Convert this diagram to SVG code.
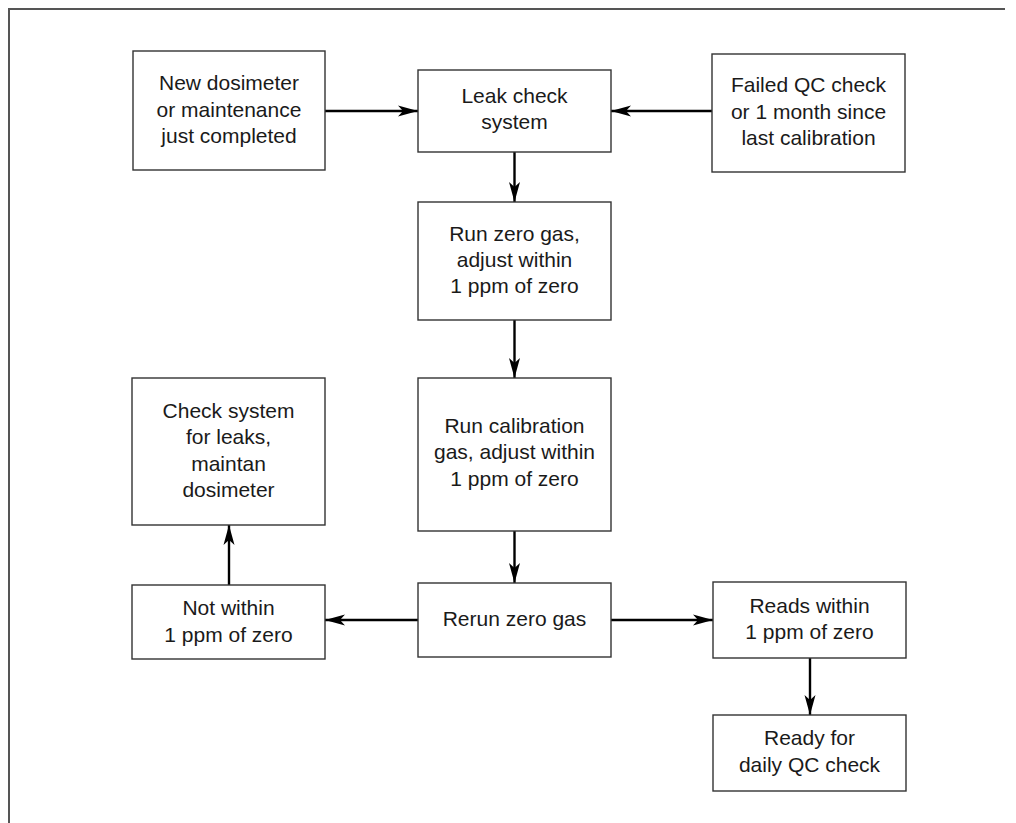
<svg xmlns="http://www.w3.org/2000/svg" width="1016" height="823" viewBox="0 0 1016 823">
<style>
.box{fill:#fff;stroke:#333;stroke-width:1.4}
.t{font-family:"Liberation Sans",Arial,sans-serif;font-size:21px;fill:#1a1a1a;text-anchor:middle}
.c{stroke:#000;stroke-width:2.4;fill:none;marker-end:url(#ah)}
</style>
<defs>
<marker id="ah" markerUnits="userSpaceOnUse" markerWidth="22" markerHeight="12" refX="20" refY="5.5" orient="auto" overflow="visible">
<path d="M0,0 L20,5.5 L0,11 L5,5.5 Z" fill="#000"/>
</marker>
</defs>
<rect width="1016" height="823" fill="#fff"/>
<polyline points="9,830 9,9 1005,9" fill="none" stroke="#555" stroke-width="2"/>
<g id="connectors">
<line class="c" x1="325" y1="111" x2="418" y2="111"/>
<line class="c" x1="712" y1="111" x2="611" y2="111"/>
<line class="c" x1="514.5" y1="152" x2="514.5" y2="202"/>
<line class="c" x1="514.5" y1="320" x2="514.5" y2="378"/>
<line class="c" x1="514.5" y1="531" x2="514.5" y2="583"/>
<line class="c" x1="418" y1="620" x2="325" y2="620"/>
<line class="c" x1="229" y1="585" x2="229" y2="525"/>
<line class="c" x1="611" y1="620" x2="713" y2="620"/>
<line class="c" x1="810" y1="658" x2="810" y2="715"/>
</g>
<g id="n-new">
<rect class="box" x="133" y="51" width="192" height="119"/>
<text class="t" x="229" y="90">New dosimeter</text>
<text class="t" x="229" y="116.5">or maintenance</text>
<text class="t" x="229" y="143">just completed</text>
</g>
<g id="n-leak">
<rect class="box" x="418" y="70" width="193" height="82"/>
<text class="t" x="514.5" y="102.5">Leak check</text>
<text class="t" x="514.5" y="129">system</text>
</g>
<g id="n-failed">
<rect class="box" x="712" y="54" width="193" height="118"/>
<text class="t" x="808.5" y="92">Failed QC check</text>
<text class="t" x="808.5" y="118.5">or 1 month since</text>
<text class="t" x="808.5" y="145">last calibration</text>
</g>
<g id="n-zero">
<rect class="box" x="418" y="202" width="193" height="118"/>
<text class="t" x="514.5" y="240.5">Run zero gas,</text>
<text class="t" x="514.5" y="267">adjust within</text>
<text class="t" x="514.5" y="293">1 ppm of zero</text>
</g>
<g id="n-calib">
<rect class="box" x="418" y="378" width="193" height="153"/>
<text class="t" x="514.5" y="432.5">Run calibration</text>
<text class="t" x="514.5" y="459">gas, adjust within</text>
<text class="t" x="514.5" y="485.5">1 ppm of zero</text>
</g>
<g id="n-check">
<rect class="box" x="132" y="378" width="193" height="147"/>
<text class="t" x="228.5" y="417.5">Check system</text>
<text class="t" x="228.5" y="444">for leaks,</text>
<text class="t" x="228.5" y="470.5">maintan</text>
<text class="t" x="228.5" y="497">dosimeter</text>
</g>
<g id="n-rerun">
<rect class="box" x="418" y="583" width="193" height="74"/>
<text class="t" x="514.5" y="625.5">Rerun zero gas</text>
</g>
<g id="n-not">
<rect class="box" x="132" y="585" width="193" height="74"/>
<text class="t" x="228.5" y="615">Not within</text>
<text class="t" x="228.5" y="641.5">1 ppm of zero</text>
</g>
<g id="n-reads">
<rect class="box" x="713" y="582" width="193" height="76"/>
<text class="t" x="809.5" y="612.5">Reads within</text>
<text class="t" x="809.5" y="639">1 ppm of zero</text>
</g>
<g id="n-ready">
<rect class="box" x="713" y="715" width="193" height="76"/>
<text class="t" x="809.5" y="745">Ready for</text>
<text class="t" x="809.5" y="771.5">daily QC check</text>
</g>
</svg>
